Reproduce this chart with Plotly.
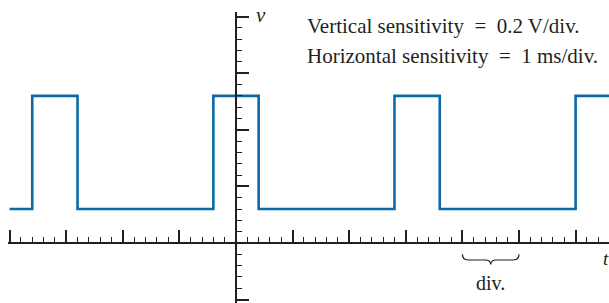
import plotly.graph_objects as go

# ---- data (time in ms, voltage in V) ----
edge_times_ms = [-4.0, -3.6, -3.6, -2.8, -2.8, -0.4, -0.4, 0.4, 0.4, 2.8, 2.8, 3.6, 3.6, 6.0, 6.0, 6.7]
wave_volts = [0.12, 0.12, 0.52, 0.52, 0.12, 0.12, 0.52, 0.52, 0.12, 0.12, 0.52, 0.52, 0.12, 0.12, 0.52, 0.52]
v_per_div = 0.2
ms_per_div = 1.0
label_lines = ["Vertical sensitivity  =  0.2 V/div.", "Horizontal sensitivity  =  1 ms/div."]
brace_span_div = [4, 5]

W, H = 609, 303
ink = "#231f20"
blue = "#0b69a6"
serif = "Liberation Serif, Times New Roman, serif"

# pixel geometry of the scope grid
px_per_div = 56.6
x0_px, y0_px = 236.0, 243.0
x_left_px, y_top_px = 8.0, 12.0

x_rng = [(x_left_px - x0_px) / px_per_div * ms_per_div, (W - x0_px) / px_per_div * ms_per_div]
y_rng = [(y0_px - H) / px_per_div * v_per_div, (y0_px - y_top_px) / px_per_div * v_per_div]

fig = go.Figure()
fig.add_trace(go.Scatter(x=edge_times_ms, y=wave_volts, mode="lines",
                         line=dict(color=blue, width=2.6), hoverinfo="skip"))

fig.update_layout(
    width=W, height=H, margin=dict(l=0, r=0, t=0, b=0),
    paper_bgcolor="white", plot_bgcolor="white", showlegend=False,
    xaxis=dict(domain=[x_left_px / W, 1], range=x_rng, anchor="free",
               position=(H - y0_px) / H, showgrid=False, zeroline=False,
               showline=True, linecolor=ink, linewidth=1.5,
               ticks="inside", tick0=0, dtick=ms_per_div, ticklen=12, tickwidth=2, tickcolor=ink,
               minor=dict(ticks="inside", dtick=ms_per_div / 5, ticklen=5, tickwidth=1, tickcolor=ink),
               showticklabels=False, fixedrange=True),
    yaxis=dict(domain=[0, (H - y_top_px) / H], range=y_rng, anchor="free",
               position=x0_px / W, showgrid=False, zeroline=False,
               showline=True, linecolor=ink, linewidth=1.5,
               ticks="inside", tick0=0, dtick=v_per_div, ticklen=12, tickwidth=2, tickcolor=ink,
               minor=dict(ticks="inside", dtick=v_per_div / 5, ticklen=5, tickwidth=1, tickcolor=ink),
               showticklabels=False, fixedrange=True),
)

# axis labels
fig.add_annotation(x=0.32 * ms_per_div, y=4.03 * v_per_div, text="<i>v</i>", showarrow=False,
                   xanchor="left", yanchor="middle", font=dict(family=serif, size=21, color=ink))
fig.add_annotation(x=6.44 * ms_per_div, y=-0.27 * v_per_div, text="<i>t</i>", showarrow=False,
                   xanchor="left", yanchor="middle", font=dict(family=serif, size=19, color=ink))

# sensitivity text
for i, line in enumerate(label_lines):
    fig.add_annotation(x=1.22 * ms_per_div, y=(3.84 - 0.53 * i) * v_per_div, text=line, showarrow=False,
                       xanchor="left", yanchor="middle", font=dict(family=serif, size=21, color=ink))

# brace under one division
a, b = brace_span_div
m = (a + b) / 2
r = 0.1
ya, yb, yc = -0.2 * v_per_div, -0.30 * v_per_div, -0.38 * v_per_div
path = (f"M {a},{ya} Q {a},{yb} {a + r},{yb} L {m - r},{yb} Q {m},{yb} {m},{yc} "
        f"Q {m},{yb} {m + r},{yb} L {b - r},{yb} Q {b},{yb} {b},{ya}")
fig.add_shape(type="path", path=path, xref="x", yref="y", line=dict(color=ink, width=1.2))
fig.add_annotation(x=m * ms_per_div, y=-0.70 * v_per_div, text="div.", showarrow=False,
                   xanchor="center", yanchor="middle", font=dict(family=serif, size=20, color=ink))

fig.write_html("out.html", config={"displayModeBar": False},
               post_script="document.body.style.margin='0';")
